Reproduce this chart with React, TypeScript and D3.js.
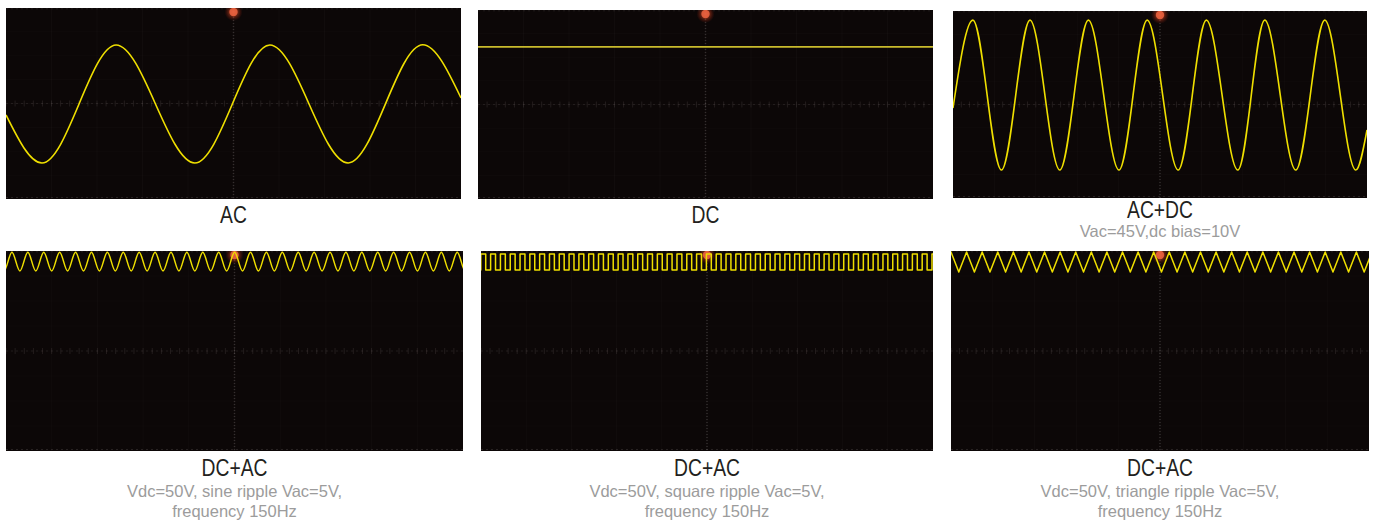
import React from "react";
import * as d3 from "d3";

const W = 1376;
const H = 521;

// ---------- text ----------
const panelTitles = ["AC", "DC", "AC+DC", "DC+AC", "DC+AC", "DC+AC"];
const panelNotes: string[][] = [
  [],
  [],
  ["Vac=45V,dc bias=10V"],
  ["Vdc=50V, sine ripple Vac=5V,", "frequency 150Hz"],
  ["Vdc=50V, square ripple Vac=5V,", "frequency 150Hz"],
  ["Vdc=50V, triangle ripple Vac=5V,", "frequency 150Hz"],
];

// ---------- data (time in screen divisions 0–10, level in vertical divisions −4…4) ----------
const acTimes = [0, 0.79, 2.42, 4.15, 5.8, 7.52, 9.16, 10];
const acValues = [-0.48, -2.49, 2.45, -2.49, 2.45, -2.49, 2.46, 0.23];

const dcTimes = [0, 10];
const dcValues = [2.44, 2.44];

const acdcTimes = [0, 0.48, 1.17, 1.86, 2.58, 3.27, 4.01, 4.69, 5.44, 6.12, 6.88, 7.53, 8.28, 8.98, 9.73, 10];
const acdcValues = [-0.15, 3.61, -2.8, 3.61, -2.8, 3.61, -2.8, 3.61, -2.8, 3.61, -2.8, 3.61, -2.8, 3.61, -2.8, -1.09];

// ripple panels (sine, square, triangle)
const rippleShapes = ["sine", "square", "triangle"];
const rippleHigh = [3.95, 3.88, 3.96];
const rippleLow = [3.2, 3.24, 3.16];
const ripplePeriod = [0.348, 0.217, 0.373];
const rippleFirstPeak = [0.13, 0.05, 0.0];

// ---------- layout ----------
const panelRects = [
  { x: 6, y: 8, w: 455, h: 191 },
  { x: 478, y: 10, w: 455, h: 189 },
  { x: 953, y: 11, w: 414, h: 187 },
  { x: 6, y: 251, w: 457, h: 200 },
  { x: 481, y: 251, w: 452, h: 200 },
  { x: 951, y: 251, w: 418, h: 200 },
];
const titleBaselines = [223, 223, 218, 476, 476, 476];
const noteBaselines = [[], [], [237], [497, 517], [497, 517], [497, 517]];

type Pt = [number, number];

function ripplePoints(i: number): { pts: Pt[]; curve: d3.CurveFactory } {
  const shape = rippleShapes[i];
  const hi = rippleHigh[i];
  const lo = rippleLow[i];
  const p = ripplePeriod[i];
  const half = p / 2;
  const pts: Pt[] = [];
  if (shape === "square") {
    let t = rippleFirstPeak[i] - p * 0.25 - p;
    let k = 0;
    while (t < 10.5) {
      pts.push([t, k % 2 === 0 ? hi : lo]);
      t += half;
      k++;
    }
    return { pts, curve: d3.curveStepAfter };
  }
  let t = rippleFirstPeak[i] - p;
  let k = 0;
  while (t < 10.6) {
    pts.push([t, k % 2 === 0 ? hi : lo]);
    t += half;
    k++;
  }
  return { pts, curve: shape === "sine" ? d3.curveMonotoneX : d3.curveLinear };
}

function panelSeries(i: number): { pts: Pt[]; curve: d3.CurveFactory; color: string; width: number } {
  if (i === 0) return { pts: acTimes.map((t, j) => [t, acValues[j]] as Pt), curve: d3.curveMonotoneX, color: "#efdf00", width: 1.6 };
  if (i === 1) return { pts: dcTimes.map((t, j) => [t, dcValues[j]] as Pt), curve: d3.curveLinear, color: "#c9bb2c", width: 1.6 };
  if (i === 2) return { pts: acdcTimes.map((t, j) => [t, acdcValues[j]] as Pt), curve: d3.curveMonotoneX, color: "#efdf00", width: 1.6 };
  const r = ripplePoints(i - 3);
  return { ...r, color: "#efdf00", width: 1.5 };
}

const SX = 0.84; // horizontal squeeze for the condensed title face

function Panel({ i }: { i: number }) {
  const r = panelRects[i];
  const x = d3.scaleLinear().domain([0, 10]).range([r.x, r.x + r.w]);
  const y = d3.scaleLinear().domain([-4, 4]).range([r.y + r.h, r.y]);
  const s = panelSeries(i);
  const line = d3
    .line<Pt>()
    .x((d) => x(d[0]))
    .y((d) => y(d[1]))
    .curve(s.curve);
  const vLines = d3.range(1, 10);
  const hLines = d3.range(-3, 4);
  const minorX = d3.range(0, 50).map((k) => k / 5);
  const cx = x(5);
  const cy = y(0);
  const tx = r.x + r.w / 2;
  return (
    <g>
      <defs>
        <clipPath id={`clip${i}`}>
          <rect x={r.x} y={r.y} width={r.w} height={r.h} />
        </clipPath>
      </defs>
      <rect x={r.x} y={r.y} width={r.w} height={r.h} fill="#0c0707" />
      <g clipPath={`url(#clip${i})`}>
        {vLines.map((v) => (
          <line key={`v${v}`} x1={x(v)} x2={x(v)} y1={r.y} y2={r.y + r.h} stroke="#ffffff" strokeOpacity={0.025} strokeWidth={1} />
        ))}
        {hLines.map((h) => (
          <line key={`h${h}`} x1={r.x} x2={r.x + r.w} y1={y(h)} y2={y(h)} stroke="#ffffff" strokeOpacity={0.02} strokeWidth={1} />
        ))}
        {minorX.map((m) => (
          <line key={`m${m}`} x1={x(m)} x2={x(m)} y1={cy - 3} y2={cy + 3} stroke="#9a8f8f" strokeOpacity={0.16} strokeWidth={1} />
        ))}
        <line x1={r.x} x2={r.x + r.w} y1={cy} y2={cy} stroke="#8a7f7f" strokeOpacity={0.16} strokeDasharray="2 3" />
        <line x1={r.x} x2={r.x + r.w} y1={r.y + r.h - 1.5} y2={r.y + r.h - 1.5} stroke="#9a9090" strokeOpacity={0.2} strokeDasharray="2 3" />
        <line x1={r.x} x2={r.x + r.w} y1={r.y + 0.8} y2={r.y + 0.8} stroke="#9a9090" strokeOpacity={0.14} strokeDasharray="2 3" />
        <line x1={cx} x2={cx} y1={r.y} y2={r.y + r.h} stroke="#a09898" strokeOpacity={0.26} strokeWidth={1.5} strokeDasharray="1 2" />
        <circle cx={cx} cy={r.y + 4} r={9} fill="url(#glow)" />
        <circle cx={cx} cy={r.y + 4} r={4.2} fill="#e9603e" fillOpacity={0.9} />
        <path d={line(s.pts) || ""} fill="none" stroke={s.color} strokeWidth={s.width} strokeLinejoin="round" />
      </g>
      <text
        transform={`translate(${tx},${titleBaselines[i]}) scale(${SX},1)`}
        textAnchor="middle"
        fontFamily="'Liberation Sans', Arial, sans-serif"
        fontSize={23}
        fill="#231f20"
      >
        {panelTitles[i]}
      </text>
      {panelNotes[i].map((n, j) => (
        <text
          key={j}
          x={tx}
          y={noteBaselines[i][j]}
          textAnchor="middle"
          fontFamily="'Liberation Sans', Arial, sans-serif"
          fontSize={16.5}
          fill="#9c9c9c"
        >
          {n}
        </text>
      ))}
    </g>
  );
}

export default function App() {
  return (
    <div style={{ position: "absolute", left: 0, top: 0, width: W, height: H, background: "#ffffff" }}>
      <svg width={W} height={H} viewBox={`0 0 ${W} ${H}`} style={{ display: "block" }}>
        <defs>
          <radialGradient id="glow">
            <stop offset="0%" stopColor="#ff7a50" stopOpacity={0.85} />
            <stop offset="55%" stopColor="#d0401e" stopOpacity={0.4} />
            <stop offset="100%" stopColor="#a02010" stopOpacity={0} />
          </radialGradient>
        </defs>
        <rect x={0} y={0} width={W} height={H} fill="#ffffff" />
        {panelRects.map((_, i) => (
          <Panel key={i} i={i} />
        ))}
      </svg>
    </div>
  );
}
